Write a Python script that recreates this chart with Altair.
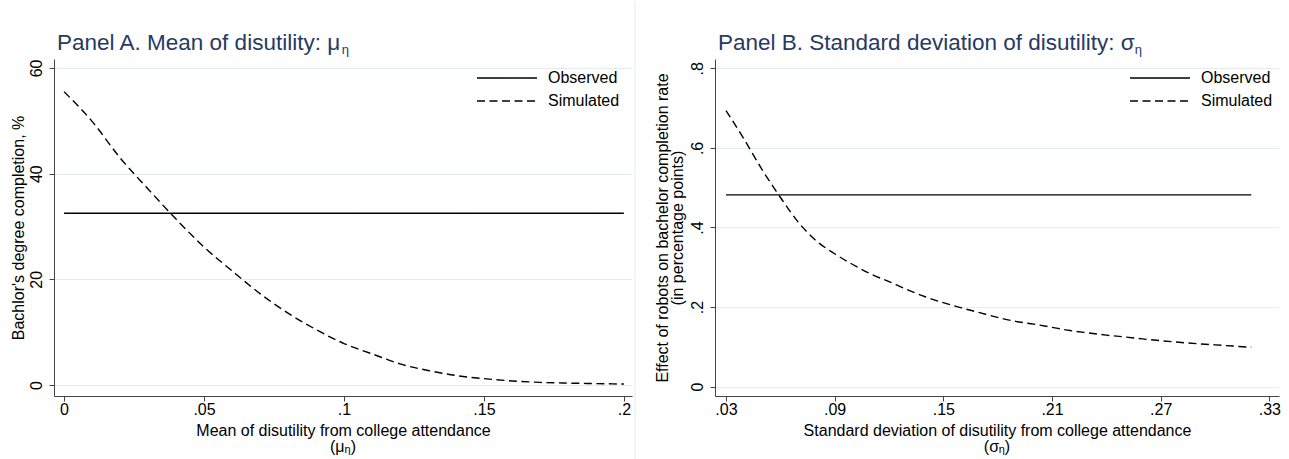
import altair as alt
import pandas as pd

FONT = "Liberation Sans, Arial, sans-serif"
NAVY = "#263a63"
GRID = "#e4ecef"

# ---------------- data ----------------
mu_grid = [0.00, 0.01, 0.02, 0.03, 0.04, 0.05, 0.06, 0.07, 0.08, 0.09, 0.10,
           0.11, 0.12, 0.13, 0.14, 0.15, 0.16, 0.17, 0.18, 0.19, 0.20]
mu_simulated = [55.5, 49.9, 43.0, 37.1, 31.4, 26.1, 21.6, 17.3, 13.6, 10.5, 7.85,
                5.9, 4.0, 2.75, 1.8, 1.2, 0.77, 0.5, 0.36, 0.27, 0.18]
mu_observed = 32.5

sigma_grid = [0.03, 0.04, 0.05, 0.06, 0.07, 0.08, 0.09, 0.10, 0.11, 0.12,
              0.13, 0.14, 0.15, 0.16, 0.17, 0.18, 0.19, 0.20, 0.21, 0.22,
              0.23, 0.24, 0.25, 0.26, 0.27, 0.28, 0.29, 0.30, 0.31, 0.32]
sigma_simulated = [0.694, 0.622, 0.545, 0.476, 0.413, 0.366, 0.334, 0.307, 0.283, 0.264,
                   0.244, 0.226, 0.211, 0.198, 0.186, 0.174, 0.164, 0.157, 0.149, 0.141,
                   0.135, 0.1295, 0.125, 0.120, 0.1155, 0.1115, 0.108, 0.105, 0.102, 0.099]
sigma_observed = 0.482

series_names = ["Observed", "Simulated"]

mu_xticks = [0, 0.05, 0.10, 0.15, 0.20]
mu_yticks = [0, 20, 40, 60]
sigma_xticks = [0.03, 0.09, 0.15, 0.21, 0.27, 0.33]
sigma_yticks = [0, 0.2, 0.4, 0.6, 0.8]

title_a = "Panel A. Mean of disutility: μ"
title_b = "Panel B. Standard deviation of disutility: σ"
sub = "η"
xtitle_a = "Mean of disutility from college attendance"
xtitle_b = "Standard deviation of disutility from college attendance"
ytitle_a = "Bachlor's degree completion, %"
ytitle_b = ["Effect of robots on bachelor completion rate", "(in percentage points)"]

# Arial / Liberation Sans advance widths (em) for placing subscripts
WID = {" ": .278, "(": .333, ")": .333, ".": .278, ":": .278, "A": .667, "B": .667,
       "M": .833, "P": .667, "S": .667, "a": .556, "b": .556, "c": .5, "d": .556,
       "e": .556, "f": .278, "g": .556, "i": .222, "l": .222, "m": .833, "n": .556,
       "o": .556, "r": .333, "s": .5, "t": .278, "u": .556, "v": .5, "y": .5,
       "μ": .576, "σ": .6, "η": .556}


def tw(s, size):
    return sum(WID.get(c, .556) for c in s) * size


TITLE_SIZE = 22.5
SUB_SIZE = 13
LAB = 16
SUBLAB = 11

W_A, H = 578, 337
W_B = 564

# long horizontal legend symbol (unit path scaled by sqrt(size)/2)
LEG_PATH = "M-4,0H4"
LEG_SIZE = 225


def label_expr():
    return "replace(format(datum.value, '.2~f'), '0.', '.')"


def panel(grid, sim, obs, xdom, ydom, xticks, yticks, width, title, greek,
          xtitle, ytitle, legend_x, ytitle_pad, separator):
    df = pd.DataFrame({
        "x": list(grid) + [grid[0], grid[-1]],
        "y": list(sim) + [obs, obs],
        "series": [series_names[1]] * len(grid) + [series_names[0]] * 2,
    })
    lines = alt.Chart(df).mark_line(strokeWidth=1.4, color="black",
                                    interpolate="monotone").encode(
        x=alt.X("x:Q", scale=alt.Scale(domain=xdom, nice=False, zero=False),
                axis=alt.Axis(values=xticks, labelExpr=label_expr(), title=xtitle,
                              grid=False, labelPadding=0, titlePadding=5)),
        y=alt.Y("y:Q", scale=alt.Scale(domain=ydom, nice=False, zero=False),
                axis=alt.Axis(values=yticks, labelExpr=label_expr(), title=ytitle,
                              grid=True, labelAngle=270, labelAlign="center",
                              labelBaseline="alphabetic", labelPadding=8,
                              titlePadding=ytitle_pad, titleLineHeight=15)),
        strokeDash=alt.StrokeDash(
            "series:N",
            scale=alt.Scale(domain=series_names, range=[[1, 0], [8, 4.5]]),
            legend=alt.Legend(orient="none", legendX=legend_x, legendY=10.5, title=None,
                              labelFontSize=LAB, labelFont=FONT, labelColor="black",
                              symbolType=LEG_PATH, symbolSize=LEG_SIZE,
                              symbolStrokeWidth=1.4, symbolStrokeColor="black",
                              labelOffset=32.5, rowPadding=6, padding=0)),
        order=alt.Order("x:Q"),
    )
    tdf = pd.DataFrame({"t": [title]})
    ttl = alt.Chart(tdf).mark_text(align="left", baseline="alphabetic", font=FONT,
                                   fontSize=TITLE_SIZE, color=NAVY).encode(
        x=alt.value(3), y=alt.value(-9), text="t:N")
    sdf = pd.DataFrame({"t": [sub]})
    ttl_sub = alt.Chart(sdf).mark_text(align="left", baseline="alphabetic", font=FONT,
                                       fontSize=SUB_SIZE, color=NAVY).encode(
        x=alt.value(3 + tw(title, TITLE_SIZE) + 0.5), y=alt.value(-5), text="t:N")
    # second line of x-axis title: "(μη)"
    total = tw("(" + greek, LAB) + tw(sub, SUBLAB) + tw(")", LAB)
    x0 = width / 2 - total / 2
    p1 = alt.Chart(pd.DataFrame({"t": ["(" + greek]})).mark_text(
        align="left", baseline="alphabetic", font=FONT, fontSize=LAB, color="black").encode(
        x=alt.value(x0), y=alt.value(H + 56), text="t:N")
    p2 = alt.Chart(pd.DataFrame({"t": [sub]})).mark_text(
        align="left", baseline="alphabetic", font=FONT, fontSize=SUBLAB, color="black").encode(
        x=alt.value(x0 + tw("(" + greek, LAB)), y=alt.value(H + 57), text="t:N")
    p3 = alt.Chart(pd.DataFrame({"t": [")"]})).mark_text(
        align="left", baseline="alphabetic", font=FONT, fontSize=LAB, color="black").encode(
        x=alt.value(x0 + tw("(" + greek, LAB) + tw(sub, SUBLAB)), y=alt.value(H + 56), text="t:N")
    layers = [lines, ttl, ttl_sub, p1, p2, p3]
    if separator:
        sep = alt.Chart(pd.DataFrame({"t": [0]})).mark_rule(color=GRID, strokeWidth=1).encode(
            x=alt.value(width + 3), y=alt.value(-58), y2=alt.value(H + 64))
        layers.append(sep)
    return alt.layer(*layers).properties(width=width, height=H)


chart_a = panel(mu_grid, mu_simulated, mu_observed, [-0.0036, 0.2029], [-2.08, 61.7],
                mu_xticks, mu_yticks, W_A, title_a, "μ", xtitle_a, ytitle_a, 444.5, 2, True)
chart_b = panel(sigma_grid, sigma_simulated, sigma_observed, [0.02395, 0.3353],
                [-0.0235, 0.8235], sigma_xticks, sigma_yticks, W_B, title_b, "σ",
                xtitle_b, ytitle_b, 436.5, 4, False)

chart = alt.hconcat(chart_a, chart_b, spacing=18).resolve_scale(
    strokeDash="independent"
).resolve_legend(
    strokeDash="independent"
).properties(
    padding={"left": 10, "top": 0, "right": 0, "bottom": 0},
    background="white",
).configure_view(stroke=None).configure_axis(
    labelFont=FONT, labelFontSize=LAB, labelColor="black",
    titleFont=FONT, titleFontSize=LAB, titleFontWeight="normal", titleColor="black",
    domainColor="#444444", tickColor="#444444", tickSize=5, domainWidth=1, tickWidth=1,
    gridColor=GRID, gridWidth=1,
)

chart.save("out.html", embed_options={"renderer": "svg", "actions": False})
